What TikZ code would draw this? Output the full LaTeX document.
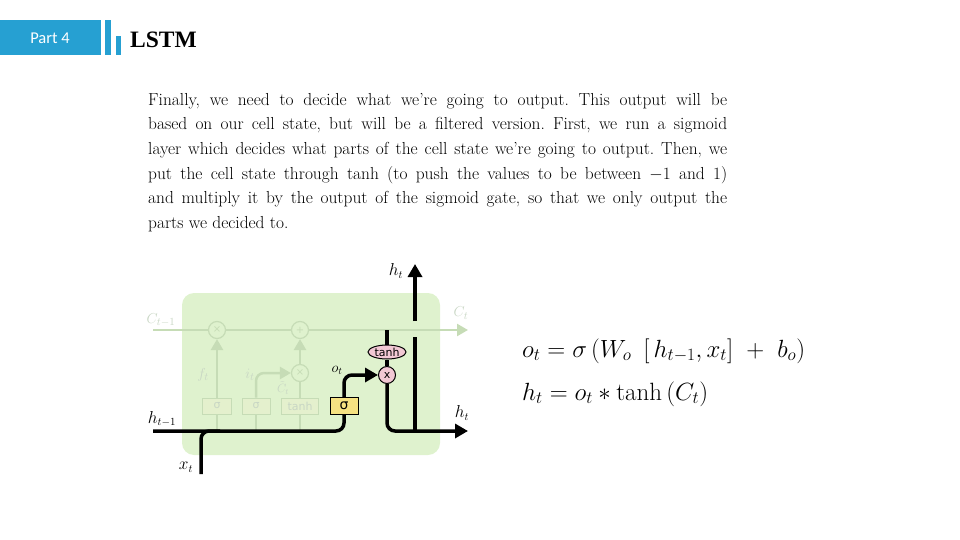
\documentclass[tikz,border=0pt]{standalone}
\usepackage{fontspec}
\newfontfamily\carlito{Carlito}
\newfontfamily\libserif{Liberation Serif}
\newfontfamily\dejavu{DejaVu Sans}
\usetikzlibrary{arrows.meta,shapes.geometric}
\definecolor{hblue}{RGB}{38,160,210}
\definecolor{cellgreen}{RGB}{223,242,206}
\definecolor{fadeline}{RGB}{198,220,182}
\definecolor{fadetext}{RGB}{200,214,196}
\definecolor{fadebox}{RGB}{228,240,205}
\definecolor{gateyellow}{RGB}{246,226,130}
\definecolor{opink}{RGB}{242,200,212}
\tikzset{
  boldline/.style={line width=3.5pt, black},
  bigtip/.style={-{Triangle[length=13pt,width=14pt]}},
  fadeln/.style={line width=2.5pt, fadeline},
  fadetip/.style={-{Triangle[length=11pt,width=12pt]}},
  fadecirc/.style={circle, draw=fadeline, fill=cellgreen, line width=1.2pt, minimum size=17pt, inner sep=0, text=fadeline, font=\dejavu\fontsize{10}{10}\selectfont},
  fadegate/.style={draw=fadeline, fill=fadebox, line width=1pt, minimum height=16pt, inner sep=0, text=fadetext, font=\dejavu\fontsize{11}{11}\selectfont},
  ygate/.style={draw=black, fill=gateyellow, line width=1pt, minimum width=28pt, minimum height=17pt, inner sep=0, font=\dejavu\fontsize{14}{14}\selectfont},
  pinkcirc/.style={circle, draw=black, fill=opink, line width=1pt, minimum size=17pt, inner sep=0, font=\dejavu\fontsize{11}{11}\selectfont},
  pinkell/.style={ellipse, draw=black, fill=opink, line width=1pt, minimum width=38pt, minimum height=14pt, inner sep=0, font=\dejavu\fontsize{11}{11}\selectfont},
  fadelabel/.style={text=fadetext, inner sep=0, font=\fontsize{15}{15}\selectfont},
  dlabel/.style={inner sep=0, font=\fontsize{16}{16}\selectfont},
}
\begin{document}
\begin{tikzpicture}[x=1pt,y=-1pt]
\useasboundingbox (0,0) rectangle (960,540);
% header
\fill[hblue] (0,20) rectangle (101,55);
\fill[hblue] (105,20) rectangle (111,55);
\fill[hblue] (116,36) rectangle (121,55);
\node[text=white, inner sep=0, font=\carlito\fontsize{16.5}{16.5}\selectfont] (part) at (50,38) {Part 4};
\node[anchor=base west, inner sep=0, font=\libserif\bfseries\fontsize{23.5}{23.5}\selectfont] (title) at (130,48) {LSTM};
% paragraph
\node[anchor=north west, inner sep=0, text width=579pt, align=justify,
      font=\fontsize{17.4}{24.6}\selectfont] (para) at (148,93)
{\tolerance=10000\frenchspacing Finally, we need to decide what we're going to output. This output will be\linebreak
based on our cell state, but will be a filtered version. First, we run a sigmoid\linebreak
layer which decides what parts of the cell state we're going to output. Then, we\linebreak
put the cell state through $\tanh$ (to push the values to be between $-1$ and $1$)\linebreak
and multiply it by the output of the sigmoid gate, so that we only output the\linebreak
parts we decided to.};
% cell
\node[fill=cellgreen, rounded corners=12pt, minimum width=258pt, minimum height=162pt, inner sep=0] (cell) at (311,374) {};
% faded nodes
\node[fadecirc] (fmul) at (217,330) {×};
\node[fadecirc] (fadd) at (300,330) {+};
\node[fadecirc] (imul) at (300,373) {×};
\node[fadegate, minimum width=29pt] (sf) at (217,406) {σ};
\node[fadegate, minimum width=28pt] (si) at (256,406) {σ};
\node[fadegate, minimum width=37pt] (tc) at (300,406) {tanh};
\coordinate (cin) at (153,330);
\coordinate (cout) at (468,330);
\coordinate (hin) at (153,431);
% cell state line
\draw[fadeln] (cin) -- (fmul);
\draw[fadeln] (fmul) -- (fadd);
\draw[fadeln, fadetip] (fadd) -- (cout);
% faded gate connectors
\draw[fadeln] (sf.south) -- (sf.south |- hin);
\draw[fadeln] (si.south) -- (si.south |- hin);
\draw[fadeln] (tc.south) -- (tc.south |- hin);
\draw[fadeln, fadetip] (sf.north) -- (fmul.south);
\draw[fadeln, fadetip, rounded corners=8pt] (si.north) |- (imul.west);
\draw[fadeln] (tc.north) -- (imul.south);
\draw[fadeln, fadetip] (imul.north) -- (fadd.south);
% faded labels
\node[fadelabel] (lct1) at (161,320) {$C_{t-1}$};
\node[fadelabel] (lct) at (461,313) {$C_t$};
\node[fadelabel] (lft) at (203,375) {$f_t$};
\node[fadelabel] (lit) at (250,375) {$i_t$};
\node[fadelabel, font=\fontsize{12}{12}\selectfont] (lctil) at (283,388) {$\tilde{C}_t$};
% output gate
\node[ygate] (so) at (344,406) {σ};
\node[pinkcirc] (omul) at (387,375) {x};
\node[pinkell] (tanho) at (387,352) {tanh};
\coordinate (xin) at (201,474);
\coordinate (xjoin) at (220,431);
\coordinate (ctap) at (387,330);
\coordinate (hout) at (468,431);
\coordinate (hup0) at (415,431);
\coordinate (hupa) at (415,337);
\coordinate (hupb) at (415,321);
\coordinate (hupend) at (415,264);
\draw[boldline, rounded corners=8pt] (hin) -- (so.south |- hin) -- (so.south);
\draw[boldline, rounded corners=8pt] (xin) |- (xjoin);
\draw[boldline, bigtip, rounded corners=8pt] (so.north) |- (omul.west);
\draw[boldline] (ctap) -- (tanho.north);
\draw[boldline] (tanho.south) -- (omul.north);
\draw[boldline, bigtip, rounded corners=8pt] (omul.south) |- (hout);
\draw[boldline] (hup0) -- (hupa);
\draw[boldline, bigtip] (hupb) -- (hupend);
% labels
\node[dlabel] (lht1) at (162,419) {$h_{t-1}$};
\node[dlabel] (lxt) at (186,467) {$x_t$};
\node[dlabel, font=\fontsize{14}{14}\selectfont] (lot) at (337,370) {$o_t$};
\node[dlabel] (lhttop) at (396,271) {$h_t$};
\node[dlabel] (lhtr) at (462,413) {$h_t$};
% equations
\node[anchor=base west, inner sep=0, font=\fontsize{25}{25}\selectfont] (eq1) at (522,357)
  {$o_t = \sigma\,(W_o\ \,[\,h_{t-1}, x_t]\ +\ b_o)$};
\node[anchor=base west, inner sep=0, font=\fontsize{25}{25}\selectfont] (eq2) at (522,400)
  {$h_t = o_t * \tanh\left(C_t\right)$};
\end{tikzpicture}
\end{document}
